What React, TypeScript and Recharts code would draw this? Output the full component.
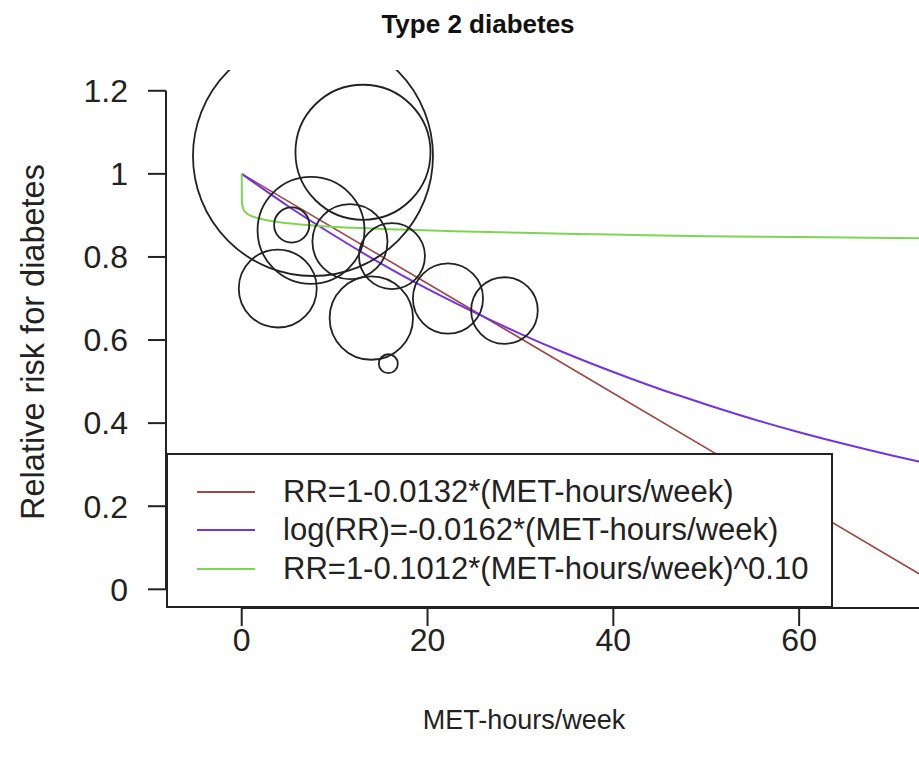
import React from "react";
import {
  ComposedChart,
  Legend,
  Line,
  ReferenceLine,
  Scatter,
  XAxis,
  YAxis,
  ZAxis,
} from "recharts";

const FONT = '"Liberation Sans", Arial, Helvetica, sans-serif';

const xTicks = [0, 20, 40, 60];
const yTicks = [0, 0.2, 0.4, 0.6, 0.8, 1, 1.2];
const xDomain: [number, number] = [-8.15, 72.9];
const yDomain: [number, number] = [-0.045, 1.25];

// individual studies: dose, relative risk, weight (bubble area)
const studyMet = [7.67, 13.05, 7.46, 5.38, 11.65, 16.17, 3.88, 13.95, 15.78, 22.2, 28.28];
const studyRR = [1.043, 1.052, 0.864, 0.877, 0.837, 0.802, 0.724, 0.653, 0.543, 0.7, 0.671];
const studyWeight = [144, 45.6, 28.6, 3.1, 14.1, 10.9, 15.2, 17.4, 0.9, 12.3, 11.1];

// fitted curves
const linearMet = [0, 20, 40, 60, 73];
const linearRR = [1, 0.736, 0.472, 0.208, 0.036];

const logMet = [0, 5, 10, 15, 20, 25, 30, 35, 40, 45, 50, 55, 60, 65, 70, 73];
const logRR = [1, 0.922, 0.851, 0.784, 0.723, 0.667, 0.615, 0.567, 0.523, 0.482, 0.445, 0.41, 0.378, 0.349, 0.322, 0.307];

const powerMet = [0, 0.02, 0.2, 0.5, 1, 2, 3, 5, 8, 12, 17, 23, 30, 40, 50, 60, 73];
const powerRR = [1, 0.93, 0.914, 0.906, 0.899, 0.892, 0.887, 0.881, 0.875, 0.87, 0.866, 0.862, 0.858, 0.854, 0.85, 0.848, 0.845];

const seriesNames = [
  "RR=1-0.0132*(MET-hours/week)",
  "log(RR)=-0.0162*(MET-hours/week)",
  "RR=1-0.1012*(MET-hours/week)^0.10",
];
const seriesColors = ["#9c4a48", "#7434e0", "#7ed552"];

const studies = studyMet.map((x, i) => ({ x, rr: studyRR[i], w: studyWeight[i] }));
const linearFit = linearMet.map((x, i) => ({ x, rr: linearRR[i] }));
const logFit = logMet.map((x, i) => ({ x, rr: logRR[i] }));
const powerFit = powerMet.map((x, i) => ({ x, rr: powerRR[i] }));

const Bubble = (props: any) => {
  const r = props.size != null ? Math.sqrt(props.size / Math.PI) : props.width / 2;
  return <circle cx={props.cx} cy={props.cy} r={r} fill="none" stroke="#222" strokeWidth={1.8} />;
};

const renderLegend = () => (
  <div
    style={{
      width: 667,
      height: 155,
      boxSizing: "border-box",
      border: "2px solid #222",
      background: "#fff",
      paddingTop: 18,
      fontFamily: FONT,
      fontSize: 31,
      color: "#222",
    }}
  >
    {seriesNames.map((name, i) => (
      <div key={name} style={{ display: "flex", alignItems: "center", height: 38.3 }}>
        <span style={{ width: 58, height: 0, borderTop: `2px solid ${seriesColors[i]}`, marginLeft: 29, marginRight: 28 }} />
        <span style={{ whiteSpace: "nowrap" }}>{name}</span>
      </div>
    ))}
  </div>
);

const yLabel = (props: any) => {
  const { viewBox } = props;
  const cy = viewBox.y + viewBox.height / 2 + 3;
  return (
    <text x={44} y={cy} transform={`rotate(-90 44 ${cy})`} textAnchor="middle" fill="#222" fontSize={32.5} fontFamily={FONT}>
      Relative risk for diabetes
    </text>
  );
};

const xLabel = (props: any) => {
  const { viewBox } = props;
  return (
    <text x={viewBox.x + 358} y={viewBox.y + 121} textAnchor="middle" fill="#222" fontSize={27} fontFamily={FONT}>
      MET-hours/week
    </text>
  );
};

export default function App() {
  return (
    <div style={{ position: "absolute", left: 0, top: 0, width: 919, height: 762, background: "#fff" }}>
      <div
        style={{
          position: "absolute",
          left: 278,
          top: 11,
          width: 400,
          textAlign: "center",
          fontFamily: FONT,
          fontWeight: "bold",
          fontSize: 26,
          lineHeight: "26px",
          color: "#111",
        }}
      >
        Type 2 diabetes
      </div>
      <ComposedChart width={919} height={762} margin={{ top: 70, right: 0, bottom: 0, left: 0 }}>
        <XAxis
          type="number"
          dataKey="x"
          domain={xDomain}
          allowDataOverflow
          ticks={xTicks}
          height={154}
          axisLine={false}
          tickSize={18}
          tickMargin={2}
          tickLine={{ stroke: "#222", strokeWidth: 2 }}
          tick={{ fill: "#222", fontSize: 32, fontFamily: FONT }}
          label={xLabel}
        />
        <YAxis
          type="number"
          dataKey="rr"
          domain={yDomain}
          allowDataOverflow
          ticks={yTicks}
          width={166}
          axisLine={false}
          tickSize={18}
          tickMargin={20}
          tickLine={{ stroke: "#222", strokeWidth: 2 }}
          tick={{ fill: "#222", fontSize: 32, fontFamily: FONT }}
          label={yLabel}
        />
        <ZAxis type="number" dataKey="w" domain={[0.9, 144]} range={[0.9 * 100 * Math.PI, 144 * 100 * Math.PI]} />
        <ReferenceLine
          segment={[{ x: xDomain[0], y: 0 }, { x: xDomain[0], y: 1.2 }]}
          stroke="#222"
          strokeWidth={2}
          ifOverflow="visible"
        />
        <ReferenceLine
          segment={[{ x: 0, y: yDomain[0] }, { x: 80, y: yDomain[0] }]}
          stroke="#222"
          strokeWidth={2}
          ifOverflow="visible"
        />
        <Scatter data={studies} shape={Bubble} legendType="none" isAnimationActive={false} />
        <Line data={linearFit} dataKey="rr" type="linear" stroke={seriesColors[0]} strokeWidth={1.6} dot={false} isAnimationActive={false} />
        <Line data={logFit} dataKey="rr" type="monotone" stroke={seriesColors[1]} strokeWidth={2} dot={false} isAnimationActive={false} />
        <Line data={powerFit} dataKey="rr" type="monotone" stroke={seriesColors[2]} strokeWidth={2} dot={false} isAnimationActive={false} />
        <Legend
          layout="horizontal"
          verticalAlign="middle"
          align="center"
          content={renderLegend}
          wrapperStyle={{ left: 166, top: 453, width: 667, height: 155 }}
        />
      </ComposedChart>
    </div>
  );
}
